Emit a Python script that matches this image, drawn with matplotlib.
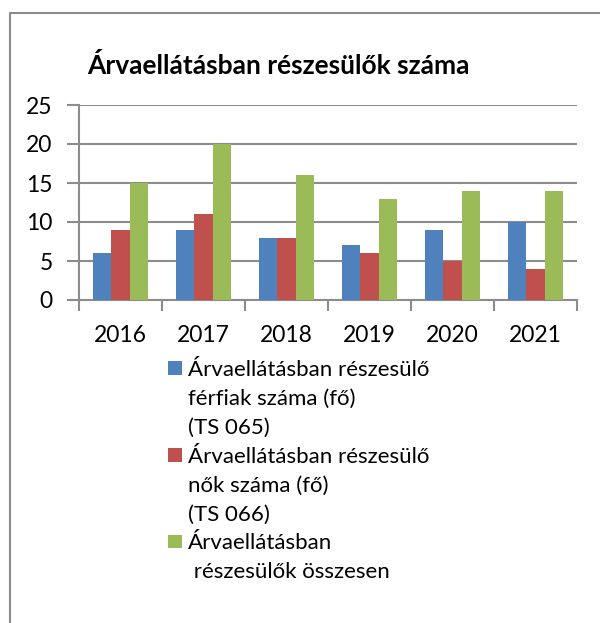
import numpy as np
import matplotlib.pyplot as plt
from matplotlib.lines import Line2D
from matplotlib.patches import Patch

plt.rcParams['font.family'] = ['Lato', 'DejaVu Sans']

years = ['2016', '2017', '2018', '2019', '2020', '2021']
ferfiak = [6, 9, 8, 7, 9, 10]
nok = [9, 11, 8, 6, 5, 4]
osszesen = [15, 20, 16, 13, 14, 14]
labels = ['Árvaellátásban részesülő\nférfiak száma (fő)\n(TS 065)',
          'Árvaellátásban részesülő\nnők száma (fő)\n(TS 066)',
          'Árvaellátásban\n részesülők összesen']
colors = ['#4F81BD', '#C0504D', '#9BBB59']

W, H = 600, 623
fig = plt.figure(figsize=(W / 100, H / 100), dpi=100)
ax = fig.add_axes([79 / W, (H - 300) / H, (577 - 79) / W, 195 / H])

x = np.arange(len(years))
bw = 0.222
for i, vals in enumerate([ferfiak, nok, osszesen]):
    ax.bar(x + (i - 1) * bw, vals, bw, color=colors[i], zorder=3)

ax.set_xlim(-0.5, len(years) - 0.5)
ax.set_ylim(0, 25)
ax.set_yticks(range(0, 26, 5))
ax.set_xticks(x)
ax.set_xticklabels(years)
ax.set_xticks(np.arange(-0.5, len(years), 1), minor=True)
ax.tick_params(axis='x', which='major', length=0, pad=18, labelsize=16.5)
ax.tick_params(axis='x', which='minor', length=8, width=1.5, color='#8c8c8c', direction='out')
ax.tick_params(axis='y', length=9, width=1.5, color='#8c8c8c', pad=10, labelsize=16.5)
ax.yaxis.grid(True, color='#8c8c8c', lw=1.5, zorder=0)
for s in ['top', 'right']:
    ax.spines[s].set_visible(False)
for s in ['left', 'bottom']:
    ax.spines[s].set_color('#8c8c8c')
    ax.spines[s].set_linewidth(1.5)

fig.text(278 / W, (H - 65) / H, 'Árvaellátásban részesülők száma',
         ha='center', va='center', fontsize=19, fontweight='bold')

# legend: one row per text line, the colour square only on the first line
handles, rows = [], []
for c, lab in zip(colors, labels):
    for j, line in enumerate(lab.split('\n')):
        handles.append(Patch(facecolor=c) if j == 0 else Patch(visible=False))
        rows.append(line)
fig.legend(handles, rows, loc='upper left', bbox_to_anchor=(168 / W, (H - 360) / H),
           frameon=False, fontsize=16, handlelength=0.63, handleheight=0.55,
           handletextpad=0.28, labelspacing=0.40, borderpad=0, borderaxespad=0)

# outer chart border (only left and top visible)
fig.add_artist(Line2D([9.5 / W, 9.5 / W, 1], [0, (H - 12.5) / H, (H - 12.5) / H],
                      transform=fig.transFigure, color='#8c8c8c', lw=1.5))

fig.savefig('out.png', dpi=100)
